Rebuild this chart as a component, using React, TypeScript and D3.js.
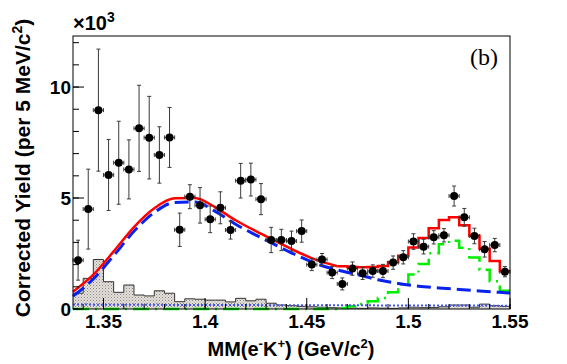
import React from "react";
import * as d3 from "d3";

// bins: 5 MeV wide, from 1.335 to 1.55 GeV
const binLow = 1.335;
const binWidth = 0.005;

// corrected yield (x10^3) per bin
const yieldData = [
  2.2, 4.5, 8.96, 6.04, 6.59, 6.29, 8.14, 7.72, 6.94, 7.73,
  3.57, 5.06, 4.67, 4.04, 4.56, 3.56, 5.78, 5.83, 4.95, 3.11,
  3.11, 3.06, 3.51, 2.0, 2.23, 1.64, 1.13, 1.82, 1.61, 1.71,
  1.71, 2.09, 2.33, 3.04, 2.81, 3.23, 3.32, 5.09, 4.13, 3.29,
  2.69, 2.88, 1.68,
];
const yieldErr = [
  0.9, 1.8, 2.75, 1.6, 1.87, 1.33, 1.94, 1.86, 1.27, 1.35,
  0.75, 0.54, 0.8, 0.6, 0.72, 0.41, 0.78, 0.74, 0.7, 0.57,
  0.48, 0.45, 0.5, 0.27, 0.27, 0.27, 0.27, 0.3, 0.28, 0.28,
  0.3, 0.3, 0.3, 0.35, 0.33, 0.3, 0.3, 0.45, 0.4, 0.35,
  0.35, 0.3, 0.23,
];
// grey hatched histogram
const accidentals = [
  0.71, 1.38, 2.23, 1.23, 0.75, 1.08, 0.63, 0.59, 0.82, 0.71,
  0.33, 0.46, 0.44, 0.4, 0.4, 0.32, 0.48, 0.37, 0.44, 0.26,
  0.18, 0.15, 0.12, 0.1, 0.08, 0.06, 0.05, 0.04, 0.03, 0.05,
  0.04, 0.03, 0.05, 0.08, 0.06, 0.07, 0.1, 0.18, 0.18, 0.08,
  0.22, 0.15, 0.12,
];
// green Lambda(1520) template
const lambda1520 = [
  0, 0, 0, 0, 0, 0, 0, 0, 0, 0,
  0, 0, 0, 0, 0, 0, 0, 0, 0, 0,
  0, 0, 0, 0, 0, 0, 0.05, 0.12, 0.22, 0.35,
  0.5, 0.75, 1.12, 1.55, 2.03, 2.51, 2.92, 3.08, 2.76, 2.32,
  1.77, 1.25, 0.82,
];
// blue dashed line shape
const sigX = [
  1.335, 1.345, 1.355, 1.365, 1.375, 1.385, 1.395, 1.405, 1.415, 1.425, 1.435,
  1.445, 1.455, 1.465, 1.475, 1.485, 1.495, 1.505, 1.515, 1.525, 1.535, 1.545, 1.55,
];
const sigY = [
  0.58, 1.35, 2.4, 3.5, 4.35, 4.8, 4.82, 4.4, 3.82, 3.33, 2.87,
  2.42, 2.03, 1.76, 1.55, 1.32, 1.15, 1.03, 0.95, 0.88, 0.81, 0.75, 0.72,
];
// blue dotted line
const bkgX = [1.335, 1.4, 1.45, 1.5, 1.55];
const bkgY = [0.2, 0.18, 0.17, 0.16, 0.15];

const xTicks = [1.35, 1.4, 1.45, 1.5, 1.55];
const xTickLabels = ["1.35", "1.4", "1.45", "1.5", "1.55"];
const yTicks = [0, 5, 10];

const font = "'Liberation Sans', Arial, Helvetica, sans-serif";

export default function App() {
  const x = d3.scaleLinear().domain([1.335, 1.55]).range([73, 510]);
  const y = d3.scaleLinear().domain([0, 12.3]).range([309, 36]);
  const sig = d3.scaleLinear().domain(sigX).range(sigY);
  const bkg = d3.scaleLinear().domain(bkgX).range(bkgY);

  const nBins = yieldData.length;
  const centers = d3.range(nBins).map((i) => binLow + binWidth * (i + 0.5));
  const xEnd = binLow + binWidth * nBins;

  // step points for a histogram: edges + centers
  const stepPts = (vals: number[], from = 0) => {
    const pts: [number, number][] = [[binLow + binWidth * from, vals[from]]];
    for (let i = from; i < vals.length; i++) pts.push([centers[i], vals[i]]);
    pts.push([xEnd, vals[vals.length - 1]]);
    return pts;
  };

  const stepLine = d3
    .line<[number, number]>()
    .x((d) => x(d[0]))
    .y((d) => y(d[1]))
    .curve(d3.curveStep);
  const stepArea = d3
    .area<[number, number]>()
    .x((d) => x(d[0]))
    .y0(y(0))
    .y1((d) => y(d[1]))
    .curve(d3.curveStep);

  const smoothLine = d3
    .line<[number, number]>()
    .x((d) => x(d[0]))
    .y((d) => y(d[1]))
    .curve(d3.curveMonotoneX);

  // red total: smooth where the green template is empty, histogram after
  const stepStart = 26;
  const redSmooth = smoothLine(
    sigX
      .filter((v) => v <= binLow + binWidth * stepStart + 1e-9)
      .map((v) => [v, sig(v) + bkg(v)] as [number, number])
  );
  const totals = centers.map((c, i) => sig(c) + bkg(c) + lambda1520[i]);
  const redStep = stepLine(stepPts(totals, stepStart));

  const blueDashed = smoothLine(sigX.map((v, i) => [v, sigY[i]] as [number, number]));
  const fineX = d3.range(1.335, 1.5501, 0.005);
  const blueDotted = smoothLine(fineX.map((v) => [v, bkg(v)] as [number, number]));

  const xMinor = d3.range(1.34, 1.5501, 0.01);
  const yMinor = d3.range(0, 12.01, 1);

  return (
    <svg
      width={567}
      height={364}
      style={{ position: "absolute", left: 0, top: 0, background: "#fff" }}
    >
      <defs>
        <pattern id="hatch" width="3" height="3" patternUnits="userSpaceOnUse">
          <rect width="3" height="3" fill="#e4e0dc" />
          <rect x="0" y="0" width="1" height="1" fill="#8a847e" />
          <rect x="1.5" y="1.5" width="1" height="1" fill="#a9a39d" />
        </pattern>
      </defs>

      {/* grey hatched histogram */}
      <path d={stepArea(stepPts(accidentals)) || ""} fill="url(#hatch)" />
      <path d={stepLine(stepPts(accidentals)) || ""} fill="none" stroke="#333" strokeWidth={1} />

      {/* green template */}
      <path
        d={stepLine(stepPts(lambda1520)) || ""}
        fill="none"
        stroke="#00ee00"
        strokeWidth={2.5}
        strokeDasharray="16,6,2,6"
      />

      {/* blue dotted */}
      <path d={blueDotted || ""} fill="none" stroke="#4455ee" strokeWidth={2} strokeDasharray="2,2" />

      {/* blue dashed */}
      <path
        d={blueDashed || ""}
        fill="none"
        stroke="#0a22ee"
        strokeWidth={3}
        strokeDasharray="14,6"
      />

      {/* red total */}
      <path d={redSmooth || ""} fill="none" stroke="#ff0000" strokeWidth={2.5} />
      <path d={redStep || ""} fill="none" stroke="#ff0000" strokeWidth={2.5} />

      {/* data points */}
      {yieldData.map((v, i) => {
        const cx = x(centers[i]);
        const cy = y(v);
        const top = y(v + yieldErr[i]);
        const bot = y(v - yieldErr[i]);
        const xl = x(centers[i] - binWidth / 2);
        const xr = x(centers[i] + binWidth / 2);
        return (
          <g key={i} stroke="#3a3a3a" strokeWidth={1}>
            <line x1={cx} x2={cx} y1={top} y2={bot} />
            <line x1={cx - 2} x2={cx + 2} y1={top} y2={top} />
            <line x1={cx - 2} x2={cx + 2} y1={bot} y2={bot} />
            <line x1={xl} x2={xr} y1={cy} y2={cy} />
            <line x1={xl} x2={xl} y1={cy - 2} y2={cy + 2} />
            <line x1={xr} x2={xr} y1={cy - 2} y2={cy + 2} />
            <circle cx={cx} cy={cy} r={4} fill="#000" stroke="none" />
          </g>
        );
      })}

      {/* frame */}
      <rect x={73} y={36} width={437} height={273} fill="none" stroke="#000" strokeWidth={1} />

      {/* x ticks */}
      {xMinor.map((t, i) => (
        <line key={"xm" + i} x1={x(t)} x2={x(t)} y1={309} y2={304} stroke="#000" />
      ))}
      {xTicks.map((t, i) => (
        <g key={"xt" + i}>
          <line x1={x(t)} x2={x(t)} y1={309} y2={298} stroke="#000" />
          <text
            x={x(t)}
            y={328}
            textAnchor="middle"
            fontFamily={font}
            fontWeight="bold"
            fontSize={19}
          >
            {xTickLabels[i]}
          </text>
        </g>
      ))}

      {/* y ticks */}
      {yMinor.map((t, i) => (
        <line key={"ym" + i} x1={73} x2={79} y1={y(t)} y2={y(t)} stroke="#000" />
      ))}
      {yTicks.map((t, i) => (
        <g key={"yt" + i}>
          <line x1={73} x2={84} y1={y(t)} y2={y(t)} stroke="#000" />
          <text
            x={71}
            y={y(t) + 7}
            textAnchor="end"
            fontFamily={font}
            fontWeight="bold"
            fontSize={19}
          >
            {t}
          </text>
        </g>
      ))}

      {/* exponent */}
      <text x={73} y={30} fontFamily={font} fontWeight="bold" fontSize={20}>
        ×10
        <tspan dy={-8} fontSize={14}>
          3
        </tspan>
      </text>

      {/* axis titles */}
      <text
        x={291}
        y={356}
        textAnchor="middle"
        fontFamily={font}
        fontWeight="bold"
        fontSize={20}
      >
        MM(e
        <tspan dy={-8} fontSize={13}>
          -
        </tspan>
        <tspan dy={8}>K</tspan>
        <tspan dy={-8} fontSize={13}>
          +
        </tspan>
        <tspan dy={8}>) (GeV/c</tspan>
        <tspan dy={-8} fontSize={13}>
          2
        </tspan>
        <tspan dy={8}>)</tspan>
      </text>
      <text
        transform="translate(30,168) rotate(-90)"
        textAnchor="middle"
        fontFamily={font}
        fontWeight="bold"
        fontSize={21}
      >
        Corrected Yield (per 5 MeV/c
        <tspan dy={-8} fontSize={14}>
          2
        </tspan>
        <tspan dy={8}>)</tspan>
      </text>

      {/* panel label */}
      <text x={470} y={65} fontFamily="'Liberation Serif', 'Times New Roman', serif" fontSize={24}>
        (b)
      </text>
    </svg>
  );
}
